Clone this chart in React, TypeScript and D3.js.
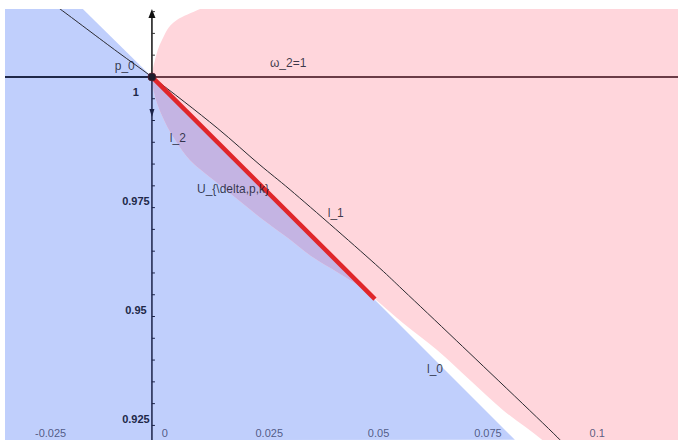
import React, { useEffect, useRef } from "react";
import * as d3 from "d3";

// boundary of the pink region (curve through p_0, l_2 below the axis)
const pinkX = [0.0144, 0.011, 0.0057, 0.0023, 0.0007, 0, 0.0006, 0.0022, 0.0053, 0.0087, 0.014, 0.0197, 0.0254, 0.0311, 0.0368, 0.0423, 0.0476, 0.051, 0.0574, 0.0652, 0.0727, 0.0803, 0.0892, 0.0933];
const pinkY = [1.0172, 1.0156, 1.0131, 1.0085, 1.0039, 1, 0.9959, 0.9913, 0.9855, 0.9809, 0.9764, 0.9718, 0.9672, 0.963, 0.9586, 0.9552, 0.9518, 0.949, 0.9435, 0.9373, 0.9304, 0.9235, 0.9167, 0.9132];

// l_0 (edge of the blue region)
const l0X = [-0.0158, 0, 0.083];
const l0Y = [1.0156, 1, 0.9167];

// l_1
const l1X = [-0.0232, -0.021, -0.0078, 0, 0.0149, 0.0247, 0.0316, 0.0521, 0.0574, 0.0697, 0.0933, 0.0944];
const l1Y = [1.0172, 1.0156, 1.0057, 1, 0.9883, 0.9798, 0.9741, 0.9561, 0.9511, 0.9394, 0.9167, 0.9155];

// red segment on l_0
const redX = [0, 0.051];
const redY = [1, 0.949];

const xTicks = [-0.025, 0, 0.025, 0.05, 0.075, 0.1];
const xTickLabels = ["-0.025", "0", "0.025", "0.05", "0.075", "0.1"];
const yTicks = [1, 0.975, 0.95, 0.925];
const yTickLabels = ["1", "0.975", "0.95", "0.925"];

const labels = [
  { text: "p_0", x: -0.0085, y: 1.0016 },
  { text: "ω_2=1", x: 0.027, y: 1.0023 },
  { text: "l_2", x: 0.0041, y: 0.9851 },
  { text: "U_{\\delta,p,k}", x: 0.0103, y: 0.9734 },
  { text: "l_1", x: 0.0402, y: 0.9679 },
  { text: "l_0", x: 0.0629, y: 0.932 },
];

const W = 678;
const H = 440;

export default function App() {
  const ref = useRef<SVGSVGElement>(null);

  useEffect(() => {
    const svg = d3.select(ref.current);
    svg.selectAll("*").remove();

    const x = d3.scaleLinear().domain([-0.0336, 0.1203]).range([5, W]);
    const y = d3.scaleLinear().domain([0.91665, 1.0156]).range([H, 9]);
    const [x0, x1] = x.domain();
    const [y0, y1] = y.domain();
    const font = "Liberation Sans, Arial, sans-serif";

    const defs = svg.append("defs");
    defs.append("clipPath").attr("id", "plot")
      .append("rect").attr("x", 5).attr("y", 9).attr("width", W - 5).attr("height", H - 9);

    const curve = d3.line<number>()
      .x(i => x(pinkX[i]))
      .y(i => y(pinkY[i]))
      .curve(d3.curveMonotoneY);
    const pinkPath = curve(d3.range(pinkX.length)) +
      `L${x(x1 + 0.01)},${y(y0 - 0.01)}L${x(x1 + 0.01)},${y(y1 + 0.01)}Z`;

    const bluePts: [number, number][] = l0X.map((v, i) => [x(v), y(l0Y[i])]);
    bluePts.push([x(x0), y(y0)], [x(x0), y(y1)]);
    const bluePath = "M" + bluePts.map(p => p.join(",")).join("L") + "Z";
    defs.append("clipPath").attr("id", "blueclip").append("path").attr("d", bluePath);

    const g = svg.append("g").attr("clip-path", "url(#plot)");
    g.append("path").attr("d", bluePath).attr("fill", "#c0cffc");
    g.append("path").attr("d", pinkPath).attr("fill", "#ffd6dc");
    g.append("path").attr("d", pinkPath).attr("fill", "#c4b4e3").attr("clip-path", "url(#blueclip)");

    // horizontal line omega_2 = 1
    g.append("line").attr("x1", x(x0)).attr("x2", x(0)).attr("y1", y(1)).attr("y2", y(1))
      .attr("stroke", "#1f2848").attr("stroke-width", 2);
    g.append("line").attr("x1", x(0)).attr("x2", x(x1)).attr("y1", y(1)).attr("y2", y(1))
      .attr("stroke", "#6b3c47").attr("stroke-width", 2);

    // l_1
    g.append("path")
      .attr("d", d3.line<number>().x(i => x(l1X[i])).y(i => y(l1Y[i])).curve(d3.curveCatmullRom)(d3.range(l1X.length)))
      .attr("fill", "none").attr("stroke", "#2a2a30").attr("stroke-width", 1);

    // red segment
    g.append("line")
      .attr("x1", x(redX[0])).attr("y1", y(redY[0]))
      .attr("x2", x(redX[1])).attr("y2", y(redY[1]))
      .attr("stroke", "#e0262a").attr("stroke-width", 4.5);

    // vertical axis
    const ax = x(0);
    g.append("line").attr("x1", ax).attr("x2", ax).attr("y1", H).attr("y2", y(1))
      .attr("stroke", "#1a2248").attr("stroke-width", 1.5);
    g.append("line").attr("x1", ax).attr("x2", ax).attr("y1", y(1)).attr("y2", 16)
      .attr("stroke", "#111").attr("stroke-width", 1.5);
    g.append("path").attr("d", `M${ax},9L${ax - 3.5},18L${ax + 3.5},18Z`).attr("fill", "#111");
    g.append("path").attr("d", `M${ax},117L${ax - 2.5},109L${ax + 2.5},109Z`).attr("fill", "#1a2248");

    const minor = y.ticks(20).filter(t => t < y1);
    g.selectAll(".ytick").data(minor).enter().append("line")
      .attr("x1", ax).attr("x2", ax + 3)
      .attr("y1", d => y(d)).attr("y2", d => y(d))
      .attr("stroke", d => (d > 1 ? "#333" : "#1a2248")).attr("stroke-width", 1);

    // y labels
    svg.selectAll(".ylab").data(yTicks).enter().append("text")
      .attr("x", ax - 16).attr("y", d => y(d) + 19)
      .attr("text-anchor", "middle")
      .attr("font-family", font)
      .attr("font-size", 11).attr("font-weight", "bold")
      .attr("fill", "#202848")
      .text((d, i) => yTickLabels[i]);

    // x labels
    svg.selectAll(".xlab").data(xTicks).enter().append("text")
      .attr("x", d => x(d) + (d === 0 ? 13 : 8)).attr("y", 437)
      .attr("text-anchor", "middle")
      .attr("font-family", font)
      .attr("font-size", 11)
      .attr("fill", "#3c4670").attr("fill-opacity", 0.85)
      .text((d, i) => xTickLabels[i]);

    // p_0
    g.append("circle").attr("cx", x(0)).attr("cy", y(1)).attr("r", 4)
      .attr("fill", "#1c1c2c").attr("stroke", "#5a2030").attr("stroke-width", 0.8);

    svg.selectAll(".lab").data(labels).enter().append("text")
      .attr("x", d => x(d.x)).attr("y", d => y(d.y))
      .attr("font-family", font)
      .attr("font-size", 12)
      .attr("fill", "#10142a").attr("fill-opacity", 0.82)
      .text(d => d.text);
  }, []);

  return (
    <svg ref={ref} width={W} height={H}
      style={{ position: "absolute", left: 0, top: 0, background: "#fff" }} />
  );
}
